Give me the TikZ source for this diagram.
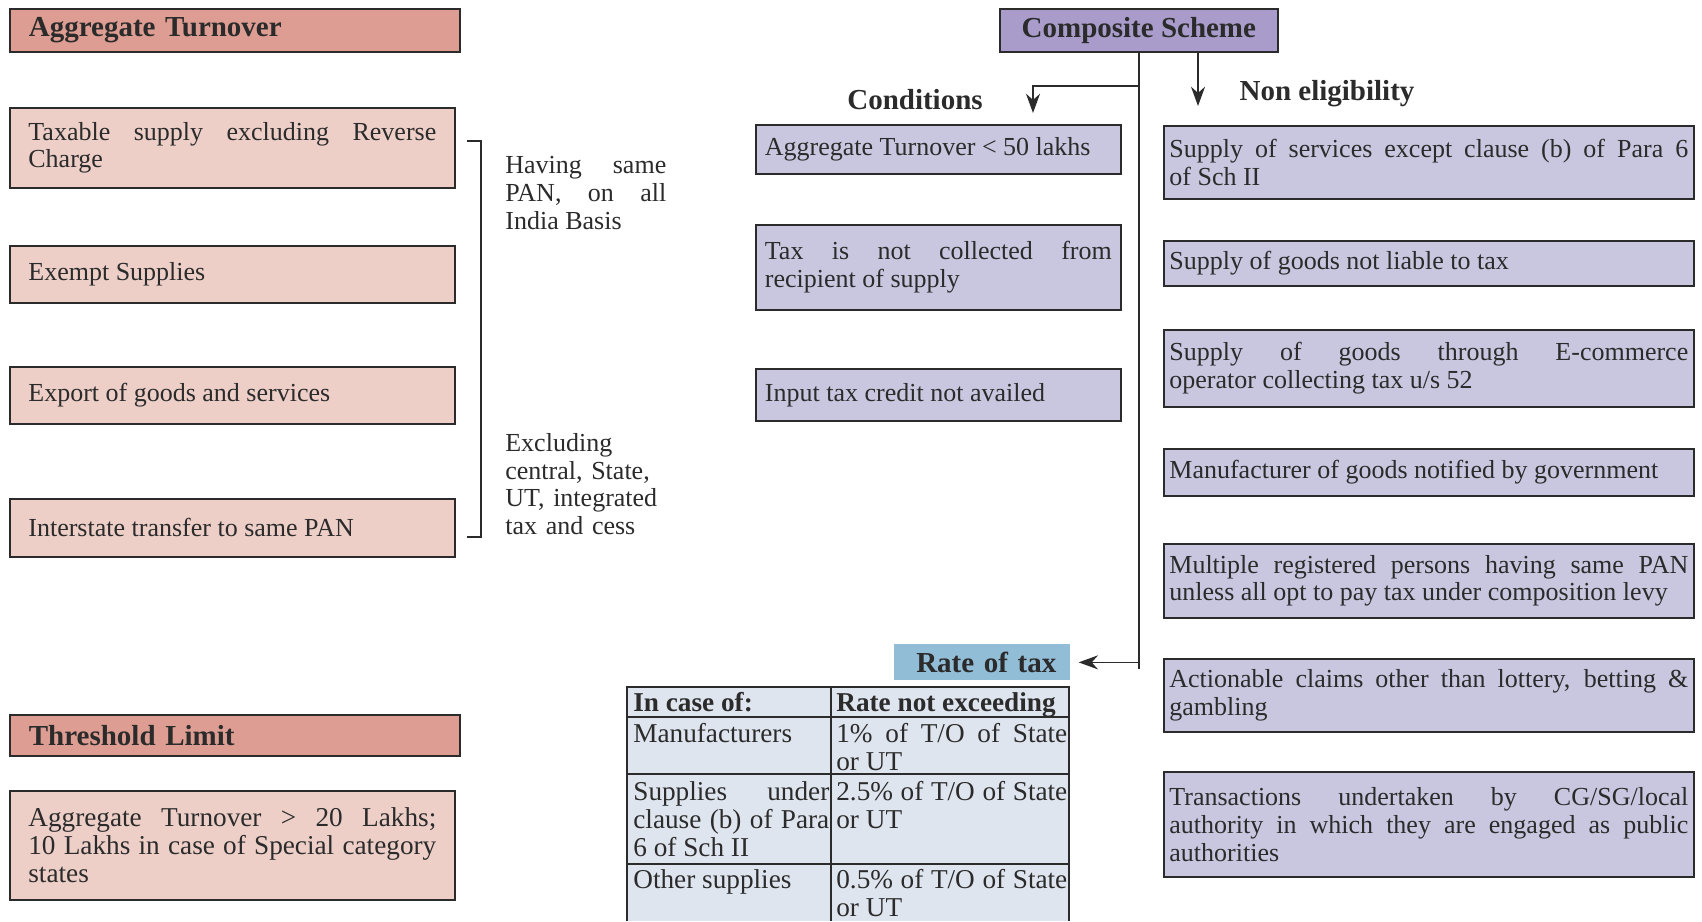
\documentclass[tikz,border=0pt]{standalone}
\usepackage{fontspec}
\setmainfont{Liberation Serif}
\usetikzlibrary{arrows.meta}

\definecolor{turnfill}{HTML}{DE9D92}
\definecolor{pinkfill}{HTML}{EDCFC8}
\definecolor{compfill}{HTML}{A99CCB}
\definecolor{lilacfill}{HTML}{C9C7E0}
\definecolor{ratefill}{HTML}{92BDD6}
\definecolor{cellfill}{HTML}{DFE5EE}
\definecolor{inkgray}{HTML}{2B2B2B}

\newcommand{\boxfont}{\fontsize{14.8}{15.8}\selectfont}
\newcommand{\cellfont}{\fontsize{15.5}{16}\selectfont}
\newcommand{\headfont}{\fontsize{16.5}{18}\selectfont\bfseries}
\sloppy

\begin{document}
\begin{tikzpicture}[x=0.02cm, y=-0.02cm,
    every node/.style={text=inkgray},
    headbar/.style={draw=inkgray, line width=1pt, fill=turnfill, anchor=north west,
        font=\headfont, text width=8.24cm, inner xsep=0.38cm, align=left, minimum height=#1},
    pinkbox/.style={draw=inkgray, line width=1pt, fill=pinkfill, anchor=north west,
        font=\boxfont, text width=8.16cm, inner xsep=0.37cm, align=justify, minimum height=#1},
    condbox/.style={draw=inkgray, line width=1pt, fill=lilacfill, anchor=north west,
        font=\boxfont, text width=6.94cm, inner xsep=0.18cm, align=justify, minimum height=#1},
    nonbox/.style={draw=inkgray, line width=1pt, fill=lilacfill, anchor=north west,
        font=\boxfont, text width=10.38cm, inner xsep=0.11cm, align=justify, minimum height=#1},
    note/.style={anchor=north west, inner sep=0pt, text width=3.22cm, align=justify, font=\boxfont},
    branch/.style={font=\headfont},
    cell/.style={anchor=north west, inner sep=0pt, align=justify, font=\cellfont},
    link/.style={draw=inkgray, line width=0.9pt},
    arr/.style={link, -{Stealth[length=11pt,width=8pt]}}
]
    \useasboundingbox (0,0) rectangle (1702,921);

    % Aggregate turnover column
    \node[headbar=0.86cm] (aggturn) at (9,8) {Aggregate Turnover};
    \node[pinkbox=1.6cm] (taxable) at (9,107) {Taxable supply excluding Reverse\linebreak Charge};
    \node[pinkbox=1.14cm] (exempt) at (9,245) {Exempt Supplies};
    \node[pinkbox=1.14cm] (export) at (9,366) {Export of goods and services};
    \node[pinkbox=1.16cm] (inter) at (9,498) {Interstate transfer to same PAN};

    % Bracket with its notes
    \draw[link] (467,141) -- (481,141) -- (481,537) -- (467,537);
    \node[note] (samepan) at (505,156) {Having same\linebreak PAN, on all\linebreak India Basis};
    \node[note, align=left] (excltax) at (505,433) {Excluding\\central, State,\\UT, integrated\\tax and cess};

    % Threshold limit
    \node[headbar=0.82cm] (thresh) at (9,714) {Threshold Limit};
    \node[pinkbox=2.18cm, font=\cellfont] (threshval) at (9,790)
        {Aggregate Turnover > 20 Lakhs;\linebreak 10 Lakhs in case of Special category\linebreak states};

    % Composite scheme and its branches
    \node[draw=inkgray, line width=1pt, fill=compfill, anchor=north west, font=\headfont,
        minimum width=5.56cm, minimum height=0.86cm] (comp) at (999,8) {Composite Scheme};
    \node[branch] (condlabel) at (915,100) {Conditions};
    \node[branch] (nonlabel) at (1327,94) {Non eligibility};

    % Conditions
    \foreach \i/\y/\h/\t in {1/124/0.98cm/{Aggregate Turnover < 50 lakhs},
                             2/224/1.7cm/{Tax is not collected from\linebreak recipient of supply},
                             3/368/1.04cm/{Input tax credit not availed}} {
        \node[condbox=\h] (cond\i) at (755,\y) {\t};
    }

    % Non eligibility
    \foreach \i/\y/\h/\t in {1/125/1.46cm/{Supply of services except clause (b) of Para 6\linebreak of Sch II},
                             2/240/0.9cm/{Supply of goods not liable to tax},
                             3/329/1.54cm/{Supply of goods through E-commerce\linebreak operator collecting tax u/s 52},
                             4/448/0.94cm/{Manufacturer of goods notified by government},
                             5/543/1.48cm/{Multiple registered persons having same PAN\linebreak unless all opt to pay tax under composition levy},
                             6/658/1.46cm/{Actionable claims other than lottery, betting \&\linebreak gambling},
                             7/771/2.1cm/{Transactions undertaken by CG/SG/local\linebreak authority in which they are engaged as public\linebreak authorities}} {
        \node[nonbox=\h] (non\i) at (1163,\y) {\t};
    }

    % Rate of tax
    \node[fill=ratefill, anchor=north west, font=\headfont, text width=2.96cm, inner xsep=0.28cm,
        align=right, minimum height=0.72cm] (rate) at (894,644) {Rate of tax};

    % Connectors from the scheme
    \coordinate (condbend) at (1033,86);
    \coordinate (condtip) at (1033,113);
    \coordinate (nontip) at (1198,106);
    \draw[link] (comp.south) -- ([yshift=-0.14cm]comp.south |- rate.east);
    \draw[arr, shorten >=0.16cm] (comp.south |- rate.east) -- (rate.east);
    \draw[arr] (comp.south |- condbend) -- (condbend) -- (condtip);
    \draw[arr] (comp.south -| nontip) -- (nontip);

    % Rate table
    \fill[cellfill] (627,687) rectangle (1069,921);
    \draw[link] (627,921) -- (627,687) -- (1069,687) -- (1069,921);
    \draw[link] (831,687) -- (831,921);
    \foreach \y in {717,774,864} {
        \draw[link] (627,\y) -- (1069,\y);
    }
    \node[cell, text width=3.92cm, font=\cellfont\bfseries] (hcase) at (633,692) {In case of:};
    \node[cell, text width=4.62cm, font=\cellfont\bfseries] (hrate) at (836,692) {Rate not exceeding};
    \node[cell, text width=3.92cm] (case1) at (633,723) {Manufacturers};
    \node[cell, text width=4.62cm] (rate1) at (836,723) {1\% of T/O of State\linebreak or UT};
    \node[cell, text width=3.92cm] (case2) at (633,781) {Supplies under\linebreak clause (b) of Para\linebreak 6 of Sch II};
    \node[cell, text width=4.62cm] (rate2) at (836,781) {2.5\% of T/O of State\linebreak or UT};
    \node[cell, text width=3.92cm] (case3) at (633,869) {Other supplies};
    \node[cell, text width=4.62cm] (rate3) at (836,869) {0.5\% of T/O of State\linebreak or UT};
\end{tikzpicture}
\end{document}
